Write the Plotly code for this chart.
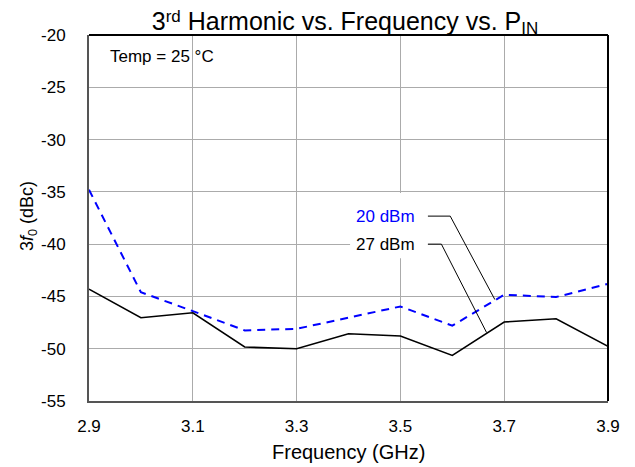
import plotly.graph_objects as go

freq = [2.9, 3.0, 3.1, 3.2, 3.3, 3.4, 3.5, 3.6, 3.7, 3.8, 3.9]
h3_20dbm = [-34.8, -44.6, -46.4, -48.25, -48.1, -47.0, -45.96, -47.8, -44.84, -45.06, -43.8]
h3_27dbm = [-44.3, -47.04, -46.56, -49.84, -50.0, -48.57, -48.78, -50.64, -47.45, -47.13, -49.78]
x_ticks = [2.9, 3.1, 3.3, 3.5, 3.7, 3.9]
y_ticks = [-55, -50, -45, -40, -35, -30, -25, -20]

font = "Liberation Sans, Arial, sans-serif"

fig = go.Figure()
fig.add_trace(go.Scatter(x=freq, y=h3_20dbm, mode="lines", name="20 dBm",
                         line=dict(color="#0000FF", width=2, dash="8px,6px")))
fig.add_trace(go.Scatter(x=freq, y=h3_27dbm, mode="lines", name="27 dBm",
                         line=dict(color="#000000", width=1.6)))

# white box behind the labels
fig.add_shape(type="rect", xref="x", yref="y", x0=3.403, x1=3.553, y0=-41.35, y1=-35.12,
              fillcolor="white", line=dict(width=0), layer="between")
# leader lines for labels
fig.add_shape(type="path", xref="x", yref="y",
              path="M 3.553,-37.32 L 3.596,-37.32 L 3.682,-45.3",
              line=dict(color="black", width=1))
fig.add_shape(type="path", xref="x", yref="y",
              path="M 3.553,-40.0 L 3.579,-40.0 L 3.666,-48.45",
              line=dict(color="black", width=1))
# top and right border in black
fig.add_shape(type="line", xref="paper", yref="paper", x0=0, x1=1, y0=1, y1=1,
              line=dict(color="black", width=2))
fig.add_shape(type="line", xref="paper", yref="paper", x0=1, x1=1, y0=0, y1=1,
              line=dict(color="black", width=2))

fig.add_annotation(x=3.532, y=-37.32, xref="x", yref="y", text="20 dBm",
                   showarrow=False, xanchor="right", yanchor="middle",
                   font=dict(family=font, size=17, color="#0000FF"))
fig.add_annotation(x=3.532, y=-40.0, xref="x", yref="y", text="27 dBm",
                   showarrow=False, xanchor="right", yanchor="middle",
                   font=dict(family=font, size=17, color="black"))
fig.add_annotation(x=0.0366, y=0.94, xref="paper", yref="paper", text="Temp = 25 °C",
                   showarrow=False, xanchor="left", yanchor="middle",
                   font=dict(family=font, size=17, color="black"))
# axis titles
fig.add_annotation(x=0.5, y=-0.139, xref="paper", yref="paper", text="Frequency (GHz)",
                   showarrow=False, xanchor="center", yanchor="middle",
                   font=dict(family=font, size=20, color="black"))
fig.add_annotation(x=-0.1156, y=0.5055, xref="paper", yref="paper",
                   text="3<i>f</i><sub>0</sub> (dBc)", textangle=-90,
                   showarrow=False, xanchor="center", yanchor="middle",
                   font=dict(family=font, size=18, color="black"))

title_text = ("3<span style='font-size:17px;baseline-shift:8px'>rd</span> Harmonic vs. "
              "Frequency vs. P<span style='font-size:17px;baseline-shift:-4px'>IN</span>")

fig.update_layout(
    width=627, height=459,
    margin=dict(l=81, r=27, t=27, b=66),
    paper_bgcolor="white", plot_bgcolor="white",
    showlegend=False,
    font=dict(family=font, size=17, color="black"),
    title=dict(text=title_text,
               x=0.5375, xanchor="center", y=0.9708, yanchor="middle",
               font=dict(family=font, size=25, color="black")),
    xaxis=dict(range=[2.9, 3.9], tickvals=x_ticks, ticktext=[f"{v:.1f}" for v in x_ticks],
               showgrid=True, gridcolor="#ABABAB", gridwidth=1,
               showline=True, linecolor="#555555", linewidth=2, mirror=False,
               ticks="", ticklabelstandoff=9, zeroline=False),
    yaxis=dict(range=[-55, -20], tickvals=y_ticks, ticktext=[str(v) for v in y_ticks],
               showgrid=True, gridcolor="#ABABAB", gridwidth=1,
               showline=True, linecolor="#555555", linewidth=2, mirror=False,
               ticks="", ticklabelstandoff=18, zeroline=False),
)

fig.write_html("out.html")
